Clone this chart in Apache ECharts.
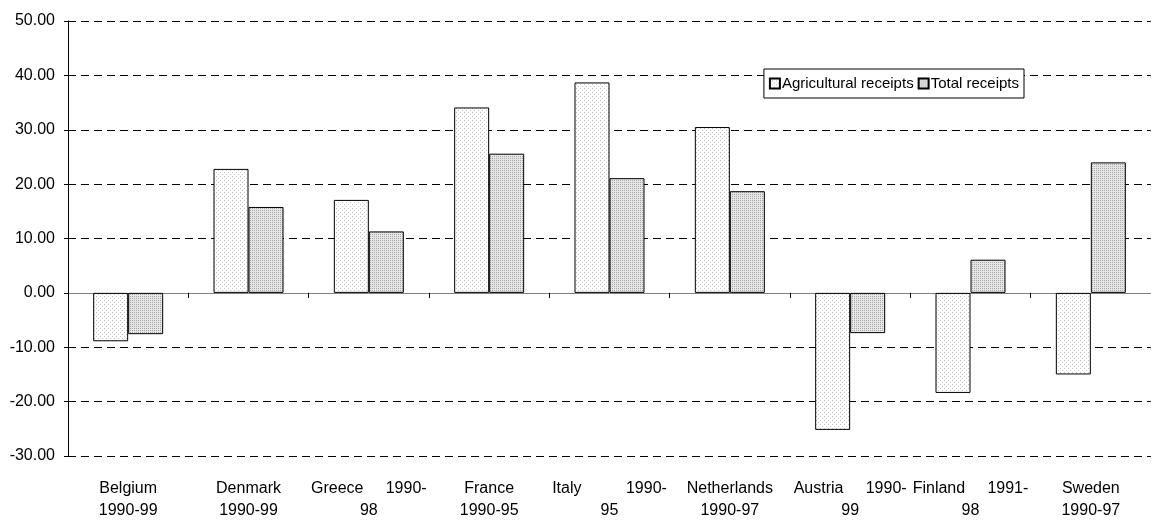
<!DOCTYPE html>
<html>
<head>
<meta charset="utf-8">
<script src="https://cdn.jsdelivr.net/npm/echarts@6/dist/echarts.min.js"></script>
<style>
html,body{margin:0;padding:0;background:#fff;}
#chart{width:1151px;height:522px;}
</style>
</head>
<body>
<div id="chart"></div>
<script>
var categories = [
  'Belgium\n1990-99',
  'Denmark\n1990-99',
  'Greece     1990-\n98',
  'France\n1990-95',
  'Italy          1990-\n95',
  'Netherlands\n1990-97',
  'Austria     1990-\n99',
  'Finland     1991-\n98',
  'Sweden\n1990-97'
];
var agricultural = [-8.9, 22.8, 17.1, 34.1, 38.7, 30.5, -25.2, -18.4, -15.0];
var total = [-7.6, 15.8, 11.3, 25.6, 21.1, 18.7, -7.4, 6.1, 24.0];
var seriesNames = ['Agricultural receipts', 'Total receipts'];
var yTicks = { min: -30, max: 50, interval: 10 };

function makePattern(bg, dot, dense) {
  var c = document.createElement('canvas');
  c.width = 4; c.height = 4;
  var ctx = c.getContext('2d');
  ctx.fillStyle = bg;
  ctx.fillRect(0, 0, 4, 4);
  ctx.fillStyle = dot;
  ctx.fillRect(0, 0, 1, 1);
  ctx.fillRect(2, 2, 1, 1);
  if (dense) {
    ctx.fillRect(2, 0, 1, 1);
    ctx.fillRect(0, 2, 1, 1);
  }
  return c;
}
var agriFill = { image: makePattern('#ffffff', '#c4c4c4', false), repeat: 'repeat' };
var totalFill = { image: makePattern('#e6e6e6', '#a8a8a8', true), repeat: 'repeat' };

var font = 'Arial, "Liberation Sans", sans-serif';
var chart = echarts.init(document.getElementById('chart'), null, { renderer: 'canvas' });
chart.setOption({
  animation: false,
  backgroundColor: '#ffffff',
  textStyle: { fontFamily: font, color: '#000' },
  grid: { left: 68, right: -7, top: 21, bottom: 64, containLabel: false },
  legend: {
    data: seriesNames,
    right: 127, top: 69,
    orient: 'horizontal',
    itemWidth: 10, itemHeight: 10, itemGap: 4,
    padding: [7, 5, 7, 5],
    borderColor: '#000', borderWidth: 1,
    backgroundColor: '#ffffff',
    icon: 'rect',
    textStyle: { fontFamily: font, fontSize: 15, color: '#000', padding: [0, 0, 0, -3] }
  },
  xAxis: [
    {
      type: 'category',
      data: categories,
      axisLine: { onZero: true, lineStyle: { color: '#808080', width: 1 } },
      axisTick: { show: true, length: 5, lineStyle: { color: '#000' } },
      axisLabel: { show: false },
      splitLine: { show: false }
    },
    {
      type: 'category',
      data: categories,
      position: 'bottom',
      axisLine: { show: false, onZero: false },
      axisTick: { show: false },
      axisLabel: {
        show: true, interval: 0, margin: 22,
        fontFamily: font, fontSize: 16, color: '#000',
        lineHeight: 22, align: 'center'
      }
    }
  ],
  yAxis: {
    type: 'value',
    min: yTicks.min, max: yTicks.max, interval: yTicks.interval,
    axisLine: { show: true, lineStyle: { color: '#000', width: 1 } },
    axisTick: { show: true, length: 4, lineStyle: { color: '#000' } },
    axisLabel: {
      margin: 13, fontFamily: font, fontSize: 16, color: '#000',
      formatter: function (v) { return v.toFixed(2); }
    },
    splitLine: { show: true, lineStyle: { color: '#000', width: 1, type: [8, 5] } }
  },
  series: [
    {
      name: seriesNames[0], type: 'bar', data: agricultural,
      xAxisIndex: 0, barWidth: 35, barGap: '0%',
      itemStyle: { color: agriFill, borderColor: '#000', borderWidth: 1 }
    },
    {
      name: seriesNames[1], type: 'bar', data: total,
      xAxisIndex: 0, barWidth: 35, barGap: '0%',
      itemStyle: { color: totalFill, borderColor: '#000', borderWidth: 1 }
    }
  ]
});
</script>
</body>
</html>
